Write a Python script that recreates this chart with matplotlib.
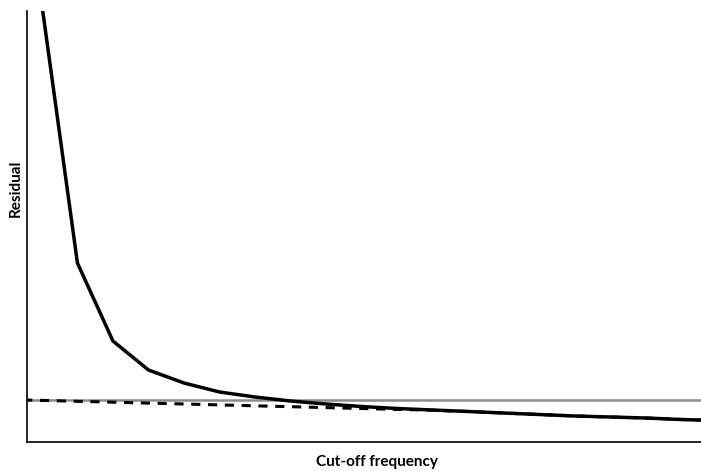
import matplotlib
matplotlib.use("Agg")
import matplotlib.pyplot as plt

# valores (unidades arbitrarias)
cutoff = [1, 2, 3, 4, 5, 6, 7, 8, 9, 10, 11, 12, 13, 14, 15, 16, 17, 18, 19, 20]
residual = [437, 179, 101, 72, 59, 50, 45, 41, 38, 35.5, 33.5, 32, 30.5, 29, 27.5, 26, 25, 24, 22.5, 21.5]

cutoff_dash = [0, 1, 2, 3, 4, 5, 6, 7, 8, 9, 10, 11, 12, 13, 14, 15, 16, 17, 18, 19, 20]
residual_dash = [42.5, 41.6, 40.7, 39.8, 38.9, 38.0, 37.1, 36.2, 35.3, 34.4, 33.5, 32.6, 31.8,
                 30.5, 29, 27.5, 26, 25, 24, 22.5, 21.5]

reference = 42

fig = plt.figure(figsize=(7.01, 4.71), dpi=100)
ax = fig.add_axes([27 / 701, 29 / 471, 674 / 701, 431 / 471])

ax.axhline(reference, color='#8c8c8c', linewidth=1.8, zorder=1)
ax.plot(cutoff_dash, residual_dash, color='black', linewidth=2.2,
        linestyle=(0, (3, 2.5)), zorder=2)
ax.plot(cutoff, residual, color='black', linewidth=2.5, zorder=3)

ax.set_xlim(0.58, 19.56)
ax.set_ylim(0, 431)
ax.set_xticks([])
ax.set_yticks([])
ax.spines['top'].set_visible(False)
ax.spines['right'].set_visible(False)
ax.spines['left'].set_linewidth(1.2)
ax.spines['bottom'].set_linewidth(1.2)

fig.text(377 / 701, 1 - 462 / 471, 'Cut-off frequency', ha='center', va='center',
         fontsize=11, fontweight='bold', family=['Lato', 'DejaVu Sans'])
fig.text(16 / 701, 1 - 188 / 471, 'Residual', ha='center', va='center', rotation=90,
         fontsize=11, fontweight='bold', family=['Lato', 'DejaVu Sans'])

fig.savefig('out.png', dpi=100)
